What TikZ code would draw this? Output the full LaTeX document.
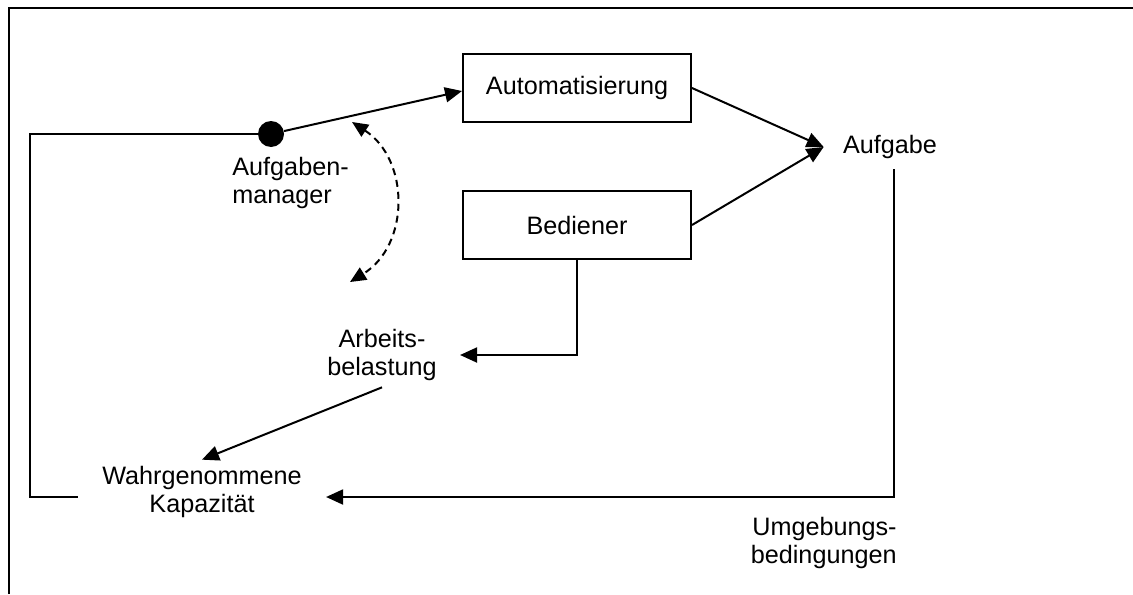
\documentclass[tikz,border=0pt]{standalone}
\usepackage{fontspec}
\setmainfont{Liberation Sans}
\usetikzlibrary{arrows.meta}

\tikzset{
  txt/.style={font=\fontsize{12.6}{14.2}\selectfont},
  box/.style={txt, draw, line width=1pt, minimum width=114pt, minimum height=34pt},
  lbl/.style={txt, align=center, inner sep=0pt},
  arr/.style={-{Triangle[length=8.5pt,width=7.5pt]}, line width=1pt},
  dasharr/.style={{Triangle[length=8pt,width=7pt]}-{Triangle[length=8pt,width=7pt]}, line width=1pt, dash pattern=on 3.5pt off 2.5pt}
}

\begin{document}
\begin{tikzpicture}[x=0.5pt,y=-0.5pt]

\useasboundingbox (0,0) rectangle (1133,594);

% frame
\draw[line width=1.2pt] (9,594)--(9,8)--(1133,8);

\node[box] (auto) at (577,88) {Automatisierung};
\node[box] (bed) at (577,225) {Bediener};

\node[lbl, inner xsep=9.5pt, inner ysep=5pt] (aufg) at (890,147) {Aufgabe};
\node[circle, fill, inner sep=0pt, minimum size=13pt] (dot) at (271,134) {};
\node[lbl, align=left, anchor=west] (manager) at (232,183) {Aufgaben-\\manager};
\node[lbl, inner xsep=11.5pt, inner ysep=3pt] (load) at (382,355) {Arbeits-\\belastung};
\node[lbl, inner xsep=12pt, inner ysep=3pt] (cap) at (202,492) {Wahrgenommene\\Kapazit\"at};
\node[lbl, align=right, anchor=east] (env) at (897,543) {Umgebungs-\\bedingungen};

\coordinate (loop) at (30,134);
\coordinate (swtop) at (352,122);
\coordinate (swbot) at (350,282);

% task allocation
\draw[arr] (dot) -- ([yshift=-1.5pt]auto.west);
\draw[arr] (auto.east) -- (aufg.west);
\draw[arr] (bed.east) -- (aufg.west);

% feedback
\draw[line width=1pt] (dot) -- (loop) |- ([yshift=-2.5pt]cap.west);
\draw[arr] ([xshift=2pt]aufg.south) |- ([yshift=-2.5pt]cap.east);
\draw[arr] (bed.south) |- (load.east);
\draw[arr] (load.south) -- (cap.north);

\draw[dasharr] (swtop) .. controls (410,160) and (410,245) .. (swbot);

\end{tikzpicture}
\end{document}
